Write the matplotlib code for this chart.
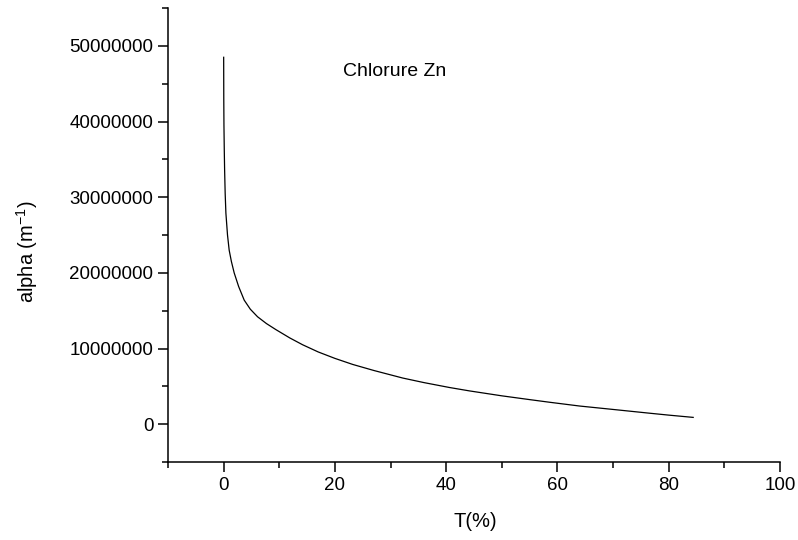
import numpy as np
import matplotlib.pyplot as plt
from matplotlib.ticker import MultipleLocator, FuncFormatter

plt.rcParams['font.family'] = ['Liberation Sans', 'DejaVu Sans']
plt.rcParams['mathtext.fontset'] = 'custom'
plt.rcParams['mathtext.rm'] = 'Liberation Sans'
plt.rcParams['mathtext.default'] = 'regular'

# transmission T (%) and absorption coefficient alpha (m^-1)
T = [0.01, 0.03, 0.06, 0.12, 0.18, 0.28, 0.41, 0.7, 1.0, 1.4, 1.9, 2.7, 3.7,
     4.8, 6.1, 7.7, 9.4, 11.9, 14.2, 17.0, 20.0, 23.2, 27.0, 32.2, 36.0,
     40.6, 44.2, 50.0, 55.0, 58.6, 64.0, 70.0, 76.6, 80.0, 84.4]
alpha = [48.5e6, 43.0e6, 39.5e6, 36.2e6, 33.6e6, 30.5e6, 27.9e6, 25.0e6, 23.0e6,
         21.5e6, 20.0e6, 18.2e6, 16.4e6, 15.2e6, 14.2e6, 13.3e6, 12.5e6, 11.4e6,
         10.5e6, 9.55e6, 8.7e6, 7.9e6, 7.1e6, 6.1e6, 5.5e6, 4.85e6, 4.4e6, 3.75e6,
         3.25e6, 2.9e6, 2.4e6, 1.95e6, 1.45e6, 1.2e6, 0.9e6]

fig = plt.figure(figsize=(7.98, 5.4), dpi=100)
ax = fig.add_axes([0.2105, 0.1444, 0.7669, 0.8406])

ax.plot(T, alpha, color='black', linewidth=0.9)

ax.set_xlim(-10, 100)
ax.set_ylim(-5e6, 55e6)

ax.spines['top'].set_visible(False)
ax.spines['right'].set_visible(False)
ax.spines['left'].set_linewidth(1.1)
ax.spines['bottom'].set_linewidth(1.1)

ax.xaxis.set_major_locator(MultipleLocator(20))
ax.xaxis.set_minor_locator(MultipleLocator(10))
ax.yaxis.set_major_locator(MultipleLocator(10e6))
ax.yaxis.set_minor_locator(MultipleLocator(5e6))
ax.yaxis.set_major_formatter(FuncFormatter(lambda v, p: "%d" % round(v)))
ax.xaxis.set_major_formatter(FuncFormatter(lambda v, p: "%d" % round(v)))

ax.tick_params(which='major', direction='out', length=7, width=1.1, labelsize=13.5)
ax.tick_params(which='minor', direction='out', length=4.5, width=1.1)

ax.set_xlabel("T(%)", fontsize=14.5)
ax.set_ylabel("alpha (m$^{-1}$)", fontsize=14.5)
ax.xaxis.set_label_coords(0.502, -0.110)
ax.yaxis.set_label_coords(-0.209, 0.463)

fig.text(395 / 798, 1 - 72 / 540, "Chlorure Zn", fontsize=14, ha='center', va='center')

plt.savefig("out.png", dpi=100)
